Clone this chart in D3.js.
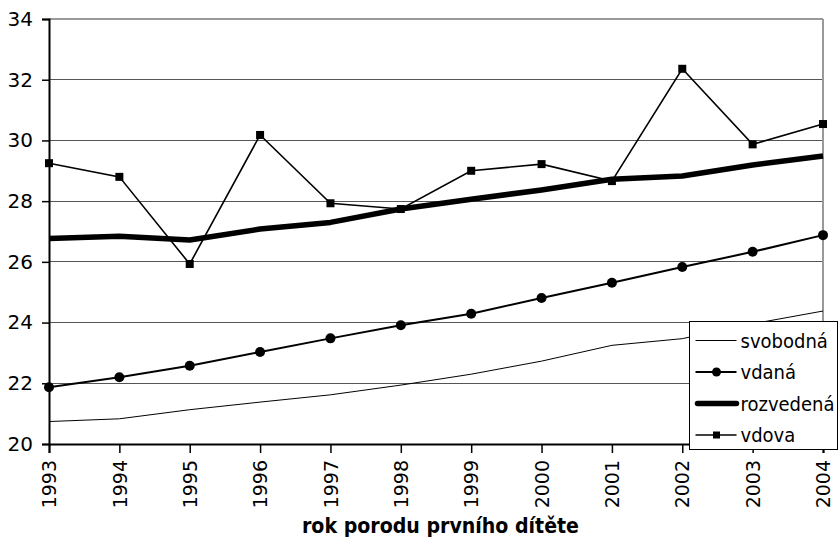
<!DOCTYPE html>
<html>
<head>
<meta charset="utf-8">
<script src="https://cdn.jsdelivr.net/npm/d3@7"></script>
<style>
  body { margin: 0; background: #fff; }
  svg { display: block; font-family: "DejaVu Sans", sans-serif; }
</style>
</head>
<body>
<svg id="chart" width="839" height="540"></svg>
<script>
// data
var years = [1993, 1994, 1995, 1996, 1997, 1998, 1999, 2000, 2001, 2002, 2003, 2004];
var svobodna = [20.74, 20.83, 21.13, 21.38, 21.62, 21.94, 22.30, 22.73, 23.25, 23.47, 23.96, 24.38];
var vdana = [21.87, 22.20, 22.58, 23.03, 23.48, 23.91, 24.29, 24.81, 25.31, 25.83, 26.33, 26.88];
var rozvedena = [26.77, 26.84, 26.72, 27.08, 27.30, 27.74, 28.06, 28.37, 28.72, 28.83, 29.19, 29.49];
var vdova = [29.25, 28.80, 25.93, 30.18, 27.93, 27.74, 29.00, 29.22, 28.66, 32.36, 29.87, 30.54];
var yTicks = [20, 22, 24, 26, 28, 30, 32, 34];
var seriesNames = ["svobodná", "vdaná", "rozvedená", "vdova"];
var xTitle = "rok porodu prvního dítěte";

var svg = d3.select("#chart");

var x = d3.scaleLinear().domain([1993, 2004]).range([49, 823]);
var y = d3.scaleLinear().domain([20, 34]).range([444, 19]);

// gridlines
svg.append("g")
	.selectAll("line")
	.data(yTicks.filter(function(d){ return d > 20; }))
	.enter()
	.append("line")
	.attr("x1", x(1993))
	.attr("x2", x(2004))
	.attr("y1", function(d){ return y(d); })
	.attr("y2", function(d){ return y(d); })
	.style("stroke", function(d){ return d === 34 ? "#999" : "#555"; })
	.style("stroke-width", function(d){ return d === 34 ? 2 : 1; })
	.attr("shape-rendering", "crispEdges");

// right border
svg.append("line")
	.attr("x1", x(2004)).attr("x2", x(2004))
	.attr("y1", y(34)).attr("y2", y(20))
	.style("stroke", "#999")
	.style("stroke-width", 2);

// axes
var yAxis = svg.append("g")
	.attr("transform", "translate(" + x(1993) + ",0)")
	.call(d3.axisLeft(y).tickValues(yTicks).tickSize(7).tickPadding(9).tickFormat(d3.format("d")))
	.attr("font-family", null)
	.attr("font-size", null);
yAxis.selectAll("text").style("font-size", "20px").style("fill", "#000");
yAxis.select(".domain").style("stroke-width", 2);
yAxis.selectAll(".tick line").style("stroke-width", 1.5);

var xAxis = svg.append("g")
	.attr("transform", "translate(0," + y(20) + ")")
	.call(d3.axisBottom(x).tickValues(years).tickSize(9).tickFormat(d3.format("d")))
	.attr("font-family", null)
	.attr("font-size", null);
xAxis.select(".domain").style("stroke-width", 2);
xAxis.selectAll(".tick line").style("stroke-width", 1.5);
xAxis.selectAll("text")
	.style("font-size", "19px")
	.style("fill", "#000")
	.attr("transform", "rotate(-90)")
	.attr("text-anchor", "end")
	.attr("x", -16)
	.attr("y", 0)
	.attr("dy", "0.35em");

svg.append("text")
	.attr("x", 302)
	.attr("y", 533)
	.attr("textLength", 277)
	.attr("lengthAdjust", "spacingAndGlyphs")
	.style("font-family", "'DejaVu Sans Condensed', 'DejaVu Sans', sans-serif")
	.style("font-size", "21px")
	.style("font-weight", "bold")
	.text(xTitle);

function line(values){
	return d3.line()
		.x(function(d, i){ return x(years[i]); })
		.y(function(d){ return y(d); })(values);
}

// svobodná
svg.append("path").attr("d", line(svobodna))
	.style("fill", "none").style("stroke", "#000").style("stroke-width", 1);

// vdaná
svg.append("path").attr("d", line(vdana))
	.style("fill", "none").style("stroke", "#000").style("stroke-width", 2);
svg.append("g").selectAll("circle")
	.data(vdana)
	.enter()
	.append("circle")
	.attr("cx", function(d, i){ return x(years[i]); })
	.attr("cy", function(d){ return y(d); })
	.attr("r", 5)
	.style("fill", "#000");

// rozvedená
svg.append("path").attr("d", line(rozvedena))
	.style("fill", "none").style("stroke", "#000").style("stroke-width", 5.5)
	.style("stroke-linejoin", "round");

// vdova
svg.append("path").attr("d", line(vdova))
	.style("fill", "none").style("stroke", "#000").style("stroke-width", 1.6);
svg.append("g").selectAll("rect")
	.data(vdova)
	.enter()
	.append("rect")
	.attr("x", function(d, i){ return x(years[i]) - 4; })
	.attr("y", function(d){ return y(d) - 4; })
	.attr("width", 8)
	.attr("height", 8)
	.style("fill", "#000");

// legend
var legend = svg.append("g").attr("transform", "translate(689.5,321.5)");
legend.append("rect")
	.attr("width", 148).attr("height", 128)
	.style("fill", "#fff").style("stroke", "#000").style("stroke-width", 1);

var items = legend.selectAll("g.item")
	.data(seriesNames)
	.enter()
	.append("g")
	.attr("class", "item")
	.attr("transform", function(d, i){ return "translate(0," + (19 + i * 31.5) + ")"; });

var sampleWidth = [1, 2, 5.5, 1.6];
items.append("line")
	.attr("x1", function(d, i){ return i === 2 ? 8 : 6; })
	.attr("x2", function(d, i){ return i === 2 ? 47 : 47; })
	.style("stroke", "#000")
	.style("stroke-width", function(d, i){ return sampleWidth[i]; })
	.style("stroke-linecap", function(d, i){ return i === 2 ? "round" : "butt"; });
items.filter(function(d, i){ return i === 1; })
	.append("circle").attr("cx", 27).attr("r", 4.5).style("fill", "#000");
items.filter(function(d, i){ return i === 3; })
	.append("rect").attr("x", 23.5).attr("y", -3.5).attr("width", 7).attr("height", 7).style("fill", "#000");
items.append("text")
	.attr("x", 51)
	.attr("dy", "0.35em")
	.style("font-family", "'DejaVu Sans Condensed', 'DejaVu Sans', sans-serif")
	.style("font-size", "20px")
	.text(function(d){ return d; });
</script>
</body>
</html>
